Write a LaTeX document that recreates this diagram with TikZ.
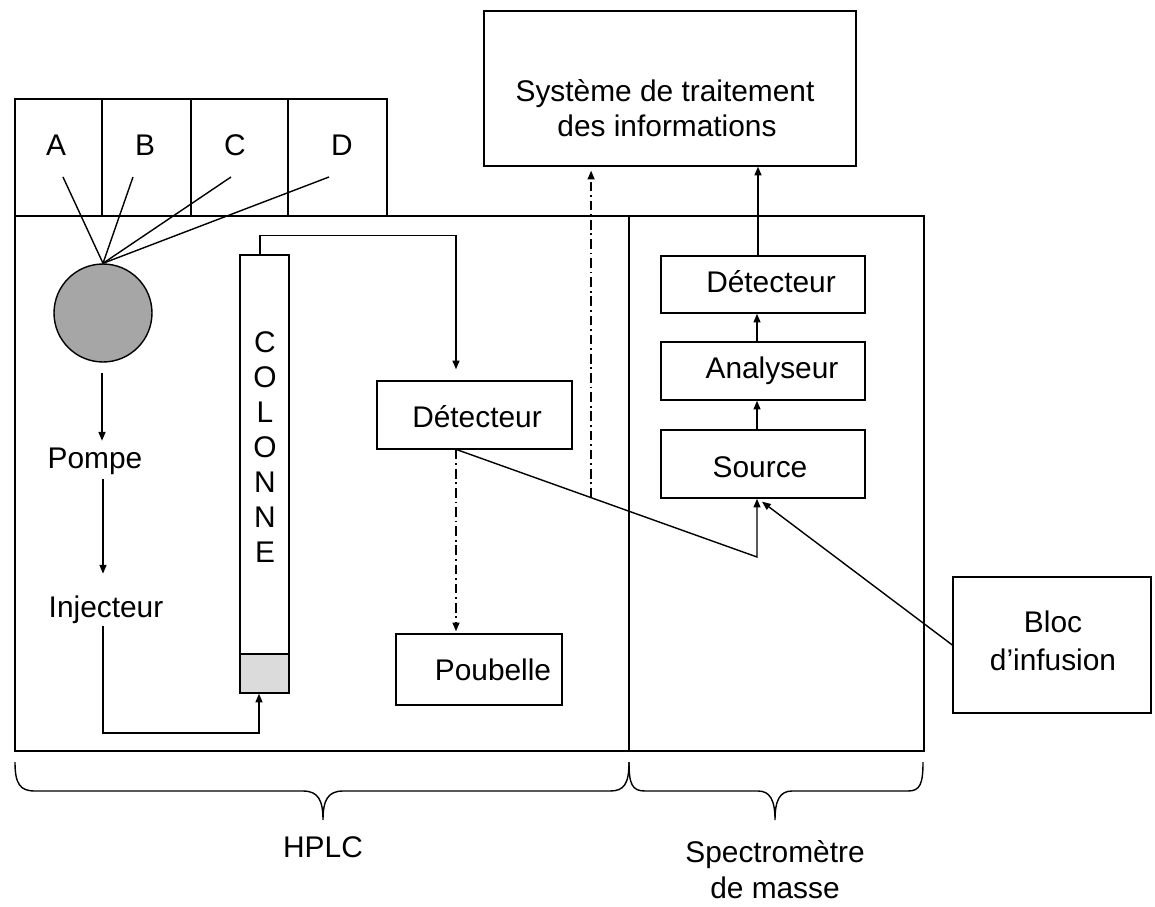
\documentclass[tikz,border=0pt]{standalone}
\usepackage{fontspec}
\setmainfont{Liberation Sans}
\usetikzlibrary{arrows.meta,calc}
\begin{document}
\begin{tikzpicture}[x=0.02cm,y=-0.02cm,
  line width=0.8pt,
  every node/.style={font=\fontsize{17}{20}\selectfont},
  box/.style={draw,rectangle,inner sep=0pt},
  lbl/.style={inner sep=0pt,anchor=base},
  arr/.style={-{Triangle[length=5pt,width=4pt]}},
  dashdot/.style={dash pattern=on 5.5pt off 2.2pt on 1pt off 2.2pt},
  brace/.style={line width=0.8pt}]
\useasboundingbox (0,0) rectangle (1155,906);

% solvent reservoirs A-D
\draw (15,216) -- (15,99) -- (387,99) -- (387,216);
\draw (102,99) -- (102,216) (191,99) -- (191,216) (288,99) -- (288,216);
\node[lbl] (la) at (56,155) {A};
\node[lbl] (lb) at (145,155) {B};
\node[lbl] (lc) at (235,155) {C};
\node[lbl] (ld) at (342,155) {D};

% HPLC and mass spectrometer frames
\draw (15,216) rectangle (924,751);
\draw (629,216) -- (629,751);

% pump
\node[draw,circle,fill=black!35,minimum size=1.96cm,inner sep=0pt] (pump) at (103,313) {};
\coordinate (sa) at (63,177);
\coordinate (sb) at (133,177);
\coordinate (sc) at (231,177);
\coordinate (sd) at (329,177);
\foreach \s in {sa,sb,sc,sd} \draw (\s) -- (pump.north);

\node[lbl] (pompe) at (95,468) {Pompe};
\node[lbl] (inj) at (106,617) {Injecteur};

% column
\node[box,minimum width=0.98cm,minimum height=8.76cm] (col) at (264.5,474) {};
\draw[fill=black!14] (240,654) rectangle (289,693);
\foreach \t [count=\i from 0] in {C,O,L,O,N,N,E}
  \node[lbl] (col\i) at (265,352+35*\i) {\t};

% HPLC detector and waste
\node[box,minimum width=3.9cm,minimum height=1.36cm] (hdet) at (474.5,415) {};
\node[lbl] (hdett) at (477,427) {Détecteur};
\node[box,minimum width=3.32cm,minimum height=1.42cm] (poub) at (479,669.5) {};
\node[lbl] (poubt) at (493,680) {Poubelle};

% data system
\node[box,minimum width=7.44cm,minimum height=3.1cm] (sys) at (670,88.5) {};
\node[lbl] (syst1) at (665,101) {Système de traitement};
\node[lbl] (syst2) at (667,136) {des informations};

% mass spectrometer stages
\node[box,minimum width=4.08cm,minimum height=1.14cm] (msdet) at (763,284.5) {};
\node[lbl] (msdett) at (771,292) {Détecteur};
\node[box,minimum width=4.08cm,minimum height=1.16cm] (ana) at (763,371) {};
\node[lbl] (anat) at (772,378) {Analyseur};
\node[box,minimum width=4.08cm,minimum height=1.36cm] (src) at (763,464) {};
\node[lbl] (srct) at (760,477) {Source};

% infusion block
\node[box,minimum width=3.96cm,minimum height=2.72cm] (bloc) at (1052,645) {};
\node[lbl] (bloct1) at (1053,632) {Bloc};
\node[lbl] (bloct2) at (1053,670) {d’infusion};

% flow connectors
\draw[arr,shorten <=0.2cm,shorten >=0.12cm] ([xshift=-0.02cm]pump.south) -- ([xshift=-0.02cm]pump.south |- pompe.north);
\draw[arr,shorten <=0.08cm,shorten >=0.42cm] (pompe.south -| pump.south) -- (inj.north -| pump.south);
\draw[arr] ([yshift=-0.04cm]inj.south -| pump.south) -- ++(0,107) -| ([xshift=-0.11cm]col.south);
\draw[arr,shorten >=0.22cm] ([xshift=-0.09cm]col.north) -- ++(0,-19) -| ([xshift=-0.37cm]hdet.north);
\draw[arr,dashdot,shorten >=0.04cm] ([xshift=-0.37cm]hdet.south) -- ([xshift=-0.37cm]hdet.south |- poub.north);

\coordinate (hout) at ([xshift=-0.35cm]hdet.south);
\coordinate (bend) at (757,557);
\draw[arr] (hout) -- (bend) -- ([xshift=-0.12cm]src.south);
\coordinate (tap) at ($(hout)!0.447!(bend)$);
\draw[arr,dashdot,shorten >=0.08cm] (tap) -- (tap |- sys.south);

\draw[arr] ([xshift=-0.12cm]src.north) -- ([xshift=-0.12cm]ana.south);
\draw[arr] ([xshift=-0.12cm]ana.north) -- ([xshift=-0.12cm]msdet.south);
\draw[arr] ([xshift=-0.1cm]msdet.north) -- ([xshift=-0.1cm]msdet.north |- sys.south);
\draw[arr] (bloc.west) -- ([xshift=-0.02cm,yshift=-0.06cm]src.south);

% braces
\draw[brace] (15,762) .. controls (15,784) and (20,791) .. (35,791) -- (303,791)
  .. controls (318,791) and (323,800) .. (323,820)
  .. controls (323,800) and (328,791) .. (343,791) -- (610,791)
  .. controls (624,791) and (629,784) .. (629,762);
\draw[brace] (629,762) .. controls (629,784) and (632,791) .. (645,791) -- (758,791)
  .. controls (770,791) and (775,800) .. (775,820)
  .. controls (775,800) and (780,791) .. (792,791) -- (908,791)
  .. controls (920,791) and (923,784) .. (923,762);
\node[lbl] (hplc) at (323,857) {HPLC};
\node[lbl] (ms1) at (775,862) {Spectromètre};
\node[lbl] (ms2) at (775,898) {de masse};
\end{tikzpicture}
\end{document}
